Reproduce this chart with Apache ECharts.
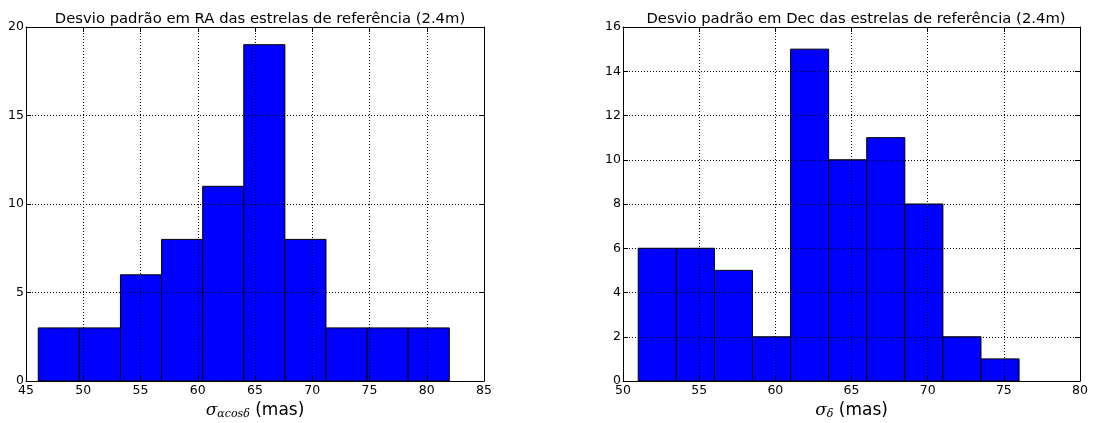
<!DOCTYPE html>
<html><head><meta charset="utf-8">
<script src="https://cdn.jsdelivr.net/npm/echarts@6/dist/echarts.min.js"></script>
<style>html,body{margin:0;padding:0;background:#fff}#c{width:1095px;height:423px}</style>
</head><body><div id="c"></div>
<script>
// Left histogram (RA)
const raEdges = [46.07, 49.66, 53.25, 56.84, 60.43, 64.02, 67.61, 71.20, 74.79, 78.38, 81.97];
const raCounts = [3, 3, 6, 8, 11, 19, 8, 3, 3, 3];
const raTitle = 'Desvio padrão em RA das estrelas de referência (2.4m)';
const raXTicks = [45, 50, 55, 60, 65, 70, 75, 80, 85];
const raYTicks = [0, 5, 10, 15, 20];
// Right histogram (Dec)
const decEdges = [51.0, 53.5, 56.0, 58.5, 61.0, 63.5, 66.0, 68.5, 71.0, 73.5, 76.0];
const decCounts = [6, 6, 5, 2, 15, 10, 11, 8, 2, 1];
const decTitle = 'Desvio padrão em Dec das estrelas de referência (2.4m)';
const decXTicks = [50, 55, 60, 65, 70, 75, 80];
const decYTicks = [0, 2, 4, 6, 8, 10, 12, 14, 16];

function binData(edges, counts) {
  return counts.map((c, i) => [edges[i], edges[i + 1], c]);
}
const FONT = 'DejaVu Sans';
function renderBar(params, api) {
  const p0 = api.coord([api.value(0), api.value(2)]);
  const p1 = api.coord([api.value(1), 0]);
  return {
    type: 'rect',
    shape: { x: p0[0], y: p0[1], width: p1[0] - p0[0], height: p1[1] - p0[1] },
    style: { fill: '#0000ff', stroke: '#000', lineWidth: 1 }
  };
}
function xAxes(ticks, gi, nameRich) {
  const min = ticks[0], max = ticks[ticks.length - 1], interval = ticks[1] - ticks[0];
  return [{
    type: 'value', gridIndex: gi, min, max, interval, z: 10,
    axisLine: { show: true, onZero: false, lineStyle: { color: '#000', width: 1 } },
    axisTick: { show: true, inside: true, length: 5, lineStyle: { color: '#000' } },
    axisLabel: { color: '#000', fontFamily: FONT, fontSize: 12.5, margin: 3 },
    splitLine: { show: true, lineStyle: { color: '#000', type: [1, 2], width: 1 } },
    name: nameRich, nameLocation: 'middle', nameGap: 19,
    nameTextStyle: { color: '#000', fontFamily: FONT, fontSize: 17,
      rich: {
        s: { fontFamily: 'DejaVu Serif', fontStyle: 'italic', fontSize: 17, color: '#000' },
        sub: { fontFamily: 'DejaVu Serif', fontStyle: 'italic', fontSize: 11, color: '#000', padding: [8, 0, 0, 0] },
        m: { fontFamily: FONT, fontSize: 17, color: '#000' }
      } }
  }, {
    type: 'value', gridIndex: gi, min, max, interval, position: 'top', z: 10,
    axisLine: { show: true, onZero: false, lineStyle: { color: '#000', width: 1 } },
    axisTick: { show: true, inside: true, length: 5, lineStyle: { color: '#000' } },
    axisLabel: { show: false }, splitLine: { show: false }
  }];
}
function yAxes(ticks, gi) {
  const min = ticks[0], max = ticks[ticks.length - 1], interval = ticks[1] - ticks[0];
  return [{
    type: 'value', gridIndex: gi, min, max, interval, z: 10,
    axisLine: { show: true, onZero: false, lineStyle: { color: '#000', width: 1 } },
    axisTick: { show: true, inside: true, length: 5, lineStyle: { color: '#000' } },
    axisLabel: { color: '#000', fontFamily: FONT, fontSize: 12.5, margin: 2 },
    splitLine: { show: true, lineStyle: { color: '#000', type: [1, 2], width: 1 } }
  }, {
    type: 'value', gridIndex: gi, min, max, interval, position: 'right', z: 10,
    axisLine: { show: true, onZero: false, lineStyle: { color: '#000', width: 1 } },
    axisTick: { show: true, inside: true, length: 5, lineStyle: { color: '#000' } },
    axisLabel: { show: false }, splitLine: { show: false }
  }];
}
const chart = echarts.init(document.getElementById('c'), null, { renderer: 'canvas' });
chart.setOption({
  backgroundColor: '#fff',
  animation: false,
  title: [
    { text: raTitle, left: 255, top: 7, textAlign: 'center',
      textStyle: { fontFamily: FONT, fontSize: 14.8, fontWeight: 'normal', color: '#000' } },
    { text: decTitle, left: 851, top: 7, textAlign: 'center',
      textStyle: { fontFamily: FONT, fontSize: 14.8, fontWeight: 'normal', color: '#000' } }
  ],
  grid: [
    { left: 26, right: 611, top: 27, bottom: 42, outerBoundsMode: 'none', containLabel: false },
    { left: 623, right: 15, top: 27, bottom: 42, outerBoundsMode: 'none', containLabel: false }
  ],
  xAxis: [
    ...xAxes(raXTicks, 0, '{s|σ}{sub|αcosδ} {m|(mas)}'),
    ...xAxes(decXTicks, 1, '{s|σ}{sub|δ} {m|(mas)}')
  ],
  yAxis: [...yAxes(raYTicks, 0), ...yAxes(decYTicks, 1)],
  series: [
    { type: 'custom', xAxisIndex: 0, yAxisIndex: 0, renderItem: renderBar,
      encode: { x: [0, 1], y: 2 }, data: binData(raEdges, raCounts), z: 2 },
    { type: 'custom', xAxisIndex: 2, yAxisIndex: 2, renderItem: renderBar,
      encode: { x: [0, 1], y: 2 }, data: binData(decEdges, decCounts), z: 2 }
  ]
});
</script></body></html>
